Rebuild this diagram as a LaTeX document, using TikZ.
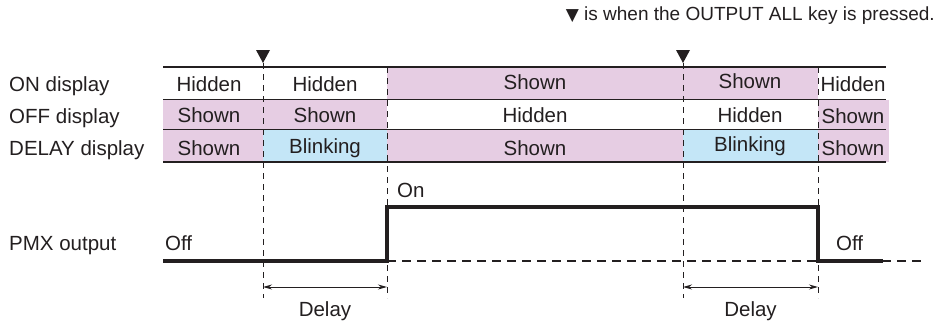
\documentclass[tikz,border=0pt]{standalone}
\usepackage{fontspec}
\setmainfont{Liberation Sans}
\newfontfamily\symfont{DejaVu Sans}
\usetikzlibrary{arrows.meta}
\definecolor{pinkfill}{RGB}{230,205,227}
\definecolor{bluefill}{RGB}{196,230,247}
\definecolor{ink}{RGB}{35,31,32}
\begin{document}
\begin{tikzpicture}[x=1pt,y=-1pt,
  txt/.style={inner sep=0pt,anchor=base,text=ink,font=\fontsize{20.5}{24}\selectfont},
  lbl/.style={txt,anchor=base west},
  rowline/.style={draw=ink,line width=1.8pt},
  guide/.style={draw=ink,line width=1pt,dash pattern=on 6pt off 5pt},
  signal/.style={draw=ink,line width=3.6pt,line join=miter},
  base/.style={draw=ink,line width=1.6pt,dash pattern=on 9pt off 6pt},
  dim/.style={draw=ink,line width=1pt,{Stealth[length=9pt,width=5pt]}-{Stealth[length=9pt,width=5pt]}},
  marker/.style={fill=ink,draw=none}]
\useasboundingbox (0,0) rectangle (945,324);
% fills
\fill[pinkfill] (387,67) rectangle (683,99.5);
\fill[pinkfill] (683,67) rectangle (818,99.5);
\fill[pinkfill] (163,99.5) rectangle (387,129.5);
\fill[pinkfill] (818,99.5) rectangle (889,129.5);
\fill[pinkfill] (163,129.5) rectangle (263,162);
\fill[bluefill] (263,129.5) rectangle (387,162);
\fill[pinkfill] (387,129.5) rectangle (683,162);
\fill[bluefill] (683,129.5) rectangle (818,162);
\fill[pinkfill] (818,129.5) rectangle (889,162);
% row lines
\coordinate (L0) at (163,67);   \coordinate (R0) at (886,67);
\coordinate (L1) at (163,99.5); \coordinate (R1) at (886,99.5);
\coordinate (L2) at (163,129.5);\coordinate (R2) at (886,129.5);
\coordinate (L3) at (163,162);  \coordinate (R3) at (886,162);
\draw[rowline] (L0) -- (R0);
\draw[rowline] (L1) -- (R1);
\draw[rowline] (L2) -- (R2);
\draw[rowline] (L3) -- (R3);
% guide lines
\coordinate (g1t) at (263,63); \coordinate (g1b) at (263,298);
\coordinate (g2t) at (387,67); \coordinate (g2b) at (387,298);
\coordinate (g3t) at (683,63); \coordinate (g3b) at (683,298);
\coordinate (g4t) at (818,67); \coordinate (g4b) at (818,298);
\draw[guide] (g1t) -- (g1b);
\draw[guide] (g2t) -- (g2b);
\draw[guide] (g3t) -- (g3b);
\draw[guide] (g4t) -- (g4b);
% markers
\fill[marker] (256,50) -- (270,50) -- (263,63) -- cycle;
\fill[marker] (676,50) -- (690,50) -- (683,63) -- cycle;
% note
\node[txt,anchor=base east,font=\fontsize{19}{22}\selectfont] (note) at (935,20) {{\symfont\fontsize{17}{20}\selectfont ▼}\ is when the OUTPUT ALL key is pressed.};
% row labels
\node[lbl] (lon) at (9,91) {ON display};
\node[lbl] (loff) at (9,123) {OFF display};
\node[lbl] (ldel) at (9,155) {DELAY display};
\node[lbl] (lpmx) at (9,250) {PMX output};
% cells
\node[txt] (a1) at (209,91) {Hidden};
\node[txt] (a2) at (325,91) {Hidden};
\node[txt] (a3) at (535,89) {Shown};
\node[txt] (a4) at (750,88.5) {Shown};
\node[txt] (a5) at (853,91.5) {Hidden};
\node[txt] (b1) at (209,122.5) {Shown};
\node[txt] (b2) at (325,122.5) {Shown};
\node[txt] (b3) at (535,122.5) {Hidden};
\node[txt] (b4) at (750,122.5) {Hidden};
\node[txt] (b5) at (853,123) {Shown};
\node[txt] (c1) at (209,155) {Shown};
\node[txt] (c2) at (325,153) {Blinking};
\node[txt] (c3) at (535,155) {Shown};
\node[txt] (c4) at (750,151) {Blinking};
\node[txt] (c5) at (853,155) {Shown};
% signal
\coordinate (s0) at (163,261);
\coordinate (s1) at (387,261);
\coordinate (s2) at (387,207);
\coordinate (s3) at (818,207);
\coordinate (s4) at (818,261);
\coordinate (s5) at (883,261);
\coordinate (s6) at (925,261);
\draw[base] (s1) -- (s6);
\draw[signal] (s0) -- (s1) -- (s2) -- (s3) -- (s4) -- (s5);
\node[lbl] (on) at (397,197) {On};
\node[lbl] (off1) at (165,250) {Off};
\node[lbl] (off2) at (836,250) {Off};
% delays
\coordinate (d1a) at (263,287); \coordinate (d1b) at (387,287);
\coordinate (d2a) at (683,287); \coordinate (d2b) at (818,287);
\draw[dim] (d1a) -- (d1b);
\draw[dim] (d2a) -- (d2b);
\node[txt] (dl1) at (325,316) {Delay};
\node[txt] (dl2) at (750.5,316) {Delay};
\end{tikzpicture}
\end{document}
